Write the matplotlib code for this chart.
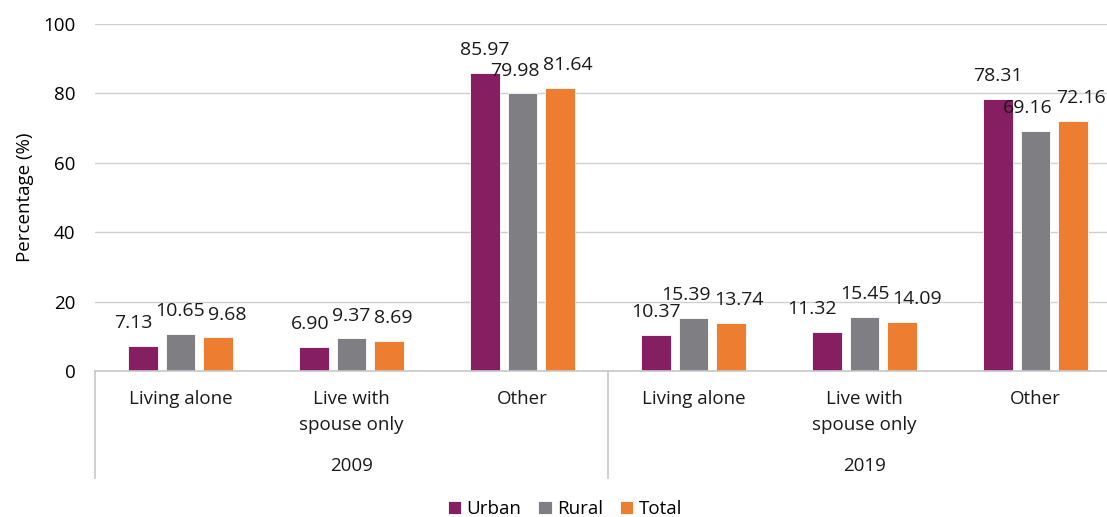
import matplotlib.pyplot as plt
import numpy as np

plt.rcParams['font.family'] = ['Open Sans', 'DejaVu Sans']

# Dados
years = ['2009', '2019']
categories = ['Living alone', 'Live with\nspouse only', 'Other']
series = ['Urban', 'Rural', 'Total']
urban = [7.13, 6.90, 85.97, 10.37, 11.32, 78.31]
rural = [10.65, 9.37, 79.98, 15.39, 15.45, 69.16]
total = [9.68, 8.69, 81.64, 13.74, 14.09, 72.16]
colors = ['#861F62', '#7F7F83', '#ED7D31']

fig = plt.figure(figsize=(11.07, 5.17), dpi=100)
ax = fig.add_axes([95 / 1107, 146 / 517, 1012 / 1107, 347 / 517])

x = np.arange(len(categories) * len(years))
width = 0.175
step = 0.22
labels = [[] for _ in x]
for i, (vals, name, c) in enumerate(zip([urban, rural, total], series, colors)):
    pos = x + (i - 1) * step
    ax.bar(pos, vals, width, color=c, label=name, edgecolor='white', linewidth=0.6)
    for j, (xp, v) in enumerate(zip(pos, vals)):
        t = ax.annotate(f'{v:.2f}', (xp, v), xytext=(0, 10), textcoords='offset points',
                        ha='center', va='bottom', fontsize=14, color='#1a1a1a',
                        annotation_clip=False)
        labels[j].append(t)

ax.set_ylim(0, 100)
ax.set_xlim(-0.5, 5.5 - 14 / 171)
ax.set_yticks(range(0, 101, 20))
ax.tick_params(axis='y', length=0, labelsize=13.5, pad=14)
ax.set_xticks([])
ax.yaxis.grid(True, color='#d0d0d0', linewidth=1)
ax.set_axisbelow(True)
for s in ['left', 'right', 'top']:
    ax.spines[s].set_visible(False)
ax.spines['bottom'].set_color('#c8c8c8')
ax.spines['bottom'].set_linewidth(1.2)
ax.set_ylabel('Percentage (%)', fontsize=13.5, labelpad=7)

# Rótulos das categorias e anos
tr = ax.get_xaxis_transform()
for j, xp in enumerate(x):
    ax.text(xp, -19 / 347, categories[j % len(categories)], transform=tr,
            ha='center', va='top', fontsize=13.5, linespacing=1.55, color='#1a1a1a')
for k, yr in enumerate(years):
    ax.text(k * 3 + 1, -95 / 347, yr, transform=tr, ha='center', va='center',
            fontsize=13.5, color='#1a1a1a')
for xs in [-0.5, 2.5, 5.5]:
    ax.plot([xs, xs], [0, -107 / 347], transform=tr, color='#c8c8c8',
            linewidth=1.2, clip_on=False)

fig.legend(loc='center', bbox_to_anchor=(565 / 1107, 1 - 509 / 517), ncol=3,
           frameon=False, fontsize=13.5, handlelength=0.7, handleheight=0.7,
           handletextpad=0.3, columnspacing=0.9)

# Afastar rótulos de valor que se sobrepõem (como o Excel faz)
fig.canvas.draw()
renderer = fig.canvas.get_renderer()
gap = 3
px2pt = 72 / fig.dpi
for _ in range(30):
    moved = False
    for grp in labels:
        for a, b in zip(grp[:-1], grp[1:]):
            ba = a.get_window_extent(renderer)
            bb = b.get_window_extent(renderer)
            if ba.y1 > bb.y0 + 2 and bb.y1 > ba.y0 + 2 and ba.x1 + gap > bb.x0:
                push = (ba.x1 + gap - bb.x0) / 2 * px2pt
                a.xyann = (a.xyann[0] - push, a.xyann[1])
                b.xyann = (b.xyann[0] + push, b.xyann[1])
                moved = True
    if not moved:
        break

fig.savefig('out.png', dpi=100)
